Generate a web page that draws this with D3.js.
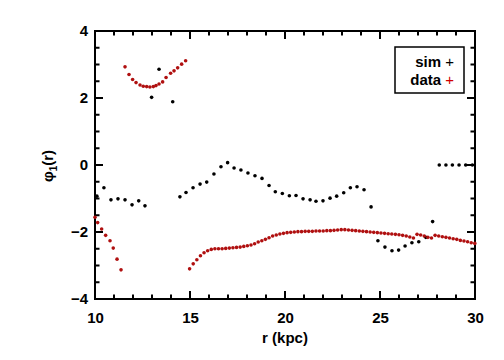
<!DOCTYPE html>
<html>
<head>
<meta charset="utf-8">
<script src="https://cdn.jsdelivr.net/npm/d3@7"></script>
<style>
  body { margin: 0; background: #fff; }
  text { font-family: "Liberation Sans", Arial, sans-serif; font-weight: bold; }
</style>
</head>
<body>
<svg id="viz" width="504" height="360"></svg>
<script>
// --- Data ---
const xMajor = [10, 15, 20, 25, 30];
const yMajor = [-4, -2, 0, 2, 4];
const xMinor = [11, 12, 13, 14, 16, 17, 18, 19, 21, 22, 23, 24, 26, 27, 28, 29];
const yMinor = [-3.5, -3, -2.5, -1.5, -1, -0.5, 0.5, 1, 1.5, 2.5, 3, 3.5];

// simulation points [r, phi1]
const simPoints = [
  [10.1, -0.93], [10.47, -0.68], [10.84, -1.04], [11.21, -1.01], [11.58, -1.04],
  [11.95, -1.19], [12.3, -1.07], [12.63, -1.22],
  [12.98, 2.02], [13.37, 2.86], [14.09, 1.89],
  [14.47, -0.95], [14.79, -0.82], [15.16, -0.68], [15.53, -0.57], [15.88, -0.51],
  [16.26, -0.27], [16.63, -0.05], [16.98, 0.07], [17.32, -0.09], [17.68, -0.15],
  [18.05, -0.24], [18.42, -0.32], [18.79, -0.40], [19.16, -0.61], [19.49, -0.80],
  [19.86, -0.85], [20.23, -0.92], [20.58, -0.91], [20.95, -1.01], [21.32, -1.04],
  [21.63, -1.08], [22.0, -1.07], [22.37, -0.99], [22.72, -0.93], [23.09, -0.83],
  [23.44, -0.68], [23.79, -0.65], [24.16, -0.74], [24.53, -1.25], [24.89, -2.26],
  [25.26, -2.45], [25.63, -2.56], [25.98, -2.54], [26.32, -2.42], [26.68, -2.32],
  [27.04, -2.29], [27.41, -2.16], [27.77, -1.69],
  [28.12, 0.0], [28.47, 0.0], [28.81, 0.0], [29.16, 0.0], [29.51, 0.0], [29.86, 0.0]
];

// data points: three segments
const dataInner = [
  [10.0, -1.56], [10.14, -1.72], [10.35, -1.91], [10.56, -2.10], [10.79, -2.26],
  [10.96, -2.48], [11.16, -2.81], [11.37, -3.13]
];
const dataUpper = [
  [11.58, 2.93], [11.79, 2.70], [11.98, 2.55], [12.16, 2.46], [12.37, 2.39],
  [12.54, 2.35], [12.72, 2.34], [12.89, 2.33], [13.07, 2.34], [13.21, 2.37],
  [13.37, 2.42], [13.56, 2.48], [13.74, 2.61], [13.98, 2.74], [14.16, 2.81],
  [14.35, 2.90], [14.56, 3.01], [14.77, 3.11]
];
const dataOuter = [
  [14.98, -3.10], [15.17, -2.95], [15.36, -2.83], [15.55, -2.71], [15.74, -2.62],
  [15.93, -2.56], [16.12, -2.52], [16.31, -2.50], [16.50, -2.50], [16.69, -2.50],
  [16.88, -2.49], [17.07, -2.48], [17.26, -2.47], [17.45, -2.46], [17.64, -2.45],
  [17.83, -2.43], [18.02, -2.41], [18.21, -2.39], [18.40, -2.35], [18.59, -2.30],
  [18.78, -2.26], [18.97, -2.22], [19.16, -2.17], [19.35, -2.12], [19.54, -2.09],
  [19.73, -2.06], [19.92, -2.04], [20.11, -2.02], [20.30, -2.01], [20.49, -2.00],
  [20.68, -1.99], [20.87, -1.99], [21.06, -1.98], [21.25, -1.98], [21.44, -1.98],
  [21.63, -1.97], [21.82, -1.97], [22.01, -1.97], [22.20, -1.96], [22.39, -1.96],
  [22.58, -1.95], [22.77, -1.94], [22.96, -1.93], [23.15, -1.93], [23.34, -1.94],
  [23.53, -1.95], [23.72, -1.96], [23.91, -1.97], [24.10, -1.98], [24.29, -1.99],
  [24.48, -2.00], [24.67, -2.01], [24.86, -2.02], [25.05, -2.03], [25.24, -2.04],
  [25.43, -2.05], [25.62, -2.06], [25.81, -2.07], [26.00, -2.08], [26.19, -2.10],
  [26.38, -2.12], [26.57, -2.15], [26.76, -2.18], [26.95, -2.07], [27.14, -2.09],
  [27.33, -2.12], [27.52, -2.16], [27.71, -2.18], [27.90, -2.10], [28.09, -2.12],
  [28.28, -2.14], [28.47, -2.16], [28.66, -2.18], [28.85, -2.20], [29.04, -2.22],
  [29.23, -2.25], [29.42, -2.27], [29.61, -2.29], [29.80, -2.32], [29.99, -2.34]
];

const CONFIG = {
  left: 95, right: 475, top: 31, bottom: 299,
  major: 8, minor: 4.5,
  colors: { sim: "#000", data: "#b01010", legendPlus: "#d00000" },
  dotR: 1.8
};

const svg = d3.select("#viz");

const x = d3.scaleLinear().domain([10, 30]).range([CONFIG.left, CONFIG.right]);
const y = d3.scaleLinear().domain([-4, 4]).range([CONFIG.bottom, CONFIG.top]);

// --- Tick labels via d3 axes (tick marks drawn separately, inward) ---
const xAxis = svg.append("g")
  .attr("transform", `translate(0,${CONFIG.bottom})`)
  .call(d3.axisBottom(x).tickValues(xMajor).tickSize(0).tickPadding(13).tickFormat(d3.format("d")));
const yAxis = svg.append("g")
  .attr("transform", `translate(${CONFIG.left},0)`)
  .call(d3.axisLeft(y).tickValues(yMajor).tickSize(0).tickPadding(7).tickFormat(d3.format("d")));
[xAxis, yAxis].forEach(g => {
  g.select(".domain").remove();
  g.selectAll("line").remove();
  g.selectAll("text").attr("fill", "#000").style("font-size", "15px")
    .style("font-family", "'Liberation Sans', Arial, sans-serif").style("font-weight", "bold");
});

// --- Inward ticks on all four sides ---
const tickPath = d3.path();
function xTicks(vals, len) {
  vals.forEach(v => {
    tickPath.moveTo(x(v), CONFIG.bottom); tickPath.lineTo(x(v), CONFIG.bottom - len);
    tickPath.moveTo(x(v), CONFIG.top); tickPath.lineTo(x(v), CONFIG.top + len);
  });
}
function yTicks(vals, len) {
  vals.forEach(v => {
    tickPath.moveTo(CONFIG.left, y(v)); tickPath.lineTo(CONFIG.left + len, y(v));
    tickPath.moveTo(CONFIG.right, y(v)); tickPath.lineTo(CONFIG.right - len, y(v));
  });
}
xTicks(xMajor, CONFIG.major);
xTicks(xMinor, CONFIG.minor);
yTicks(yMajor, CONFIG.major);
yTicks(yMinor, CONFIG.minor);
svg.append("path")
  .attr("d", tickPath.toString())
  .attr("fill", "none").attr("stroke", "#000").attr("stroke-width", 2);

// frame
svg.append("rect")
  .attr("x", CONFIG.left).attr("y", CONFIG.top)
  .attr("width", CONFIG.right - CONFIG.left)
  .attr("height", CONFIG.bottom - CONFIG.top)
  .attr("fill", "none").attr("stroke", "#000").attr("stroke-width", 2);

// --- Points ---
function dots(data, color) {
  svg.append("g").selectAll("circle")
    .data(data)
    .join("circle")
    .attr("cx", d => x(d[0]))
    .attr("cy", d => y(d[1]))
    .attr("r", CONFIG.dotR)
    .attr("fill", color);
}
dots(simPoints, CONFIG.colors.sim);
dots(dataInner, CONFIG.colors.data);
dots(dataUpper, CONFIG.colors.data);
dots(dataOuter, CONFIG.colors.data);

// --- Axis titles ---
svg.append("text")
  .attr("x", (CONFIG.left + CONFIG.right) / 2)
  .attr("y", 343)
  .attr("text-anchor", "middle")
  .style("font-size", "15px")
  .text("r (kpc)");

const yt = svg.append("text")
  .attr("transform", "translate(53,166) rotate(-90)")
  .attr("text-anchor", "middle")
  .style("font-size", "15px");
yt.append("tspan").text("φ");
yt.append("tspan").attr("dy", 4).style("font-size", "10px").text("1");
yt.append("tspan").attr("dy", -4).text("(r)");

// --- Legend ---
const legend = svg.append("g");
legend.append("rect")
  .attr("x", 395).attr("y", 47).attr("width", 69).attr("height", 46)
  .attr("fill", "#fff").attr("stroke", "#000").attr("stroke-width", 1.5);
const items = [["sim", CONFIG.colors.sim], ["data", CONFIG.colors.legendPlus]];
items.forEach((it, i) => {
  const t = legend.append("text")
    .attr("x", 454).attr("y", 67 + i * 18)
    .attr("text-anchor", "end")
    .style("font-size", "15px");
  t.append("tspan").text(it[0] + " ");
  t.append("tspan").attr("fill", it[1]).style("font-weight", "normal").text("+");
});
</script>
</body>
</html>
